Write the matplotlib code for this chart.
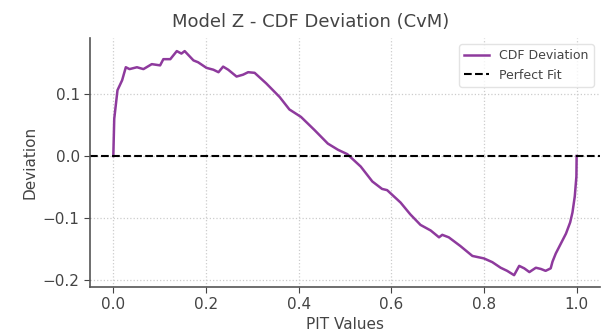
import matplotlib
matplotlib.use("Agg")
import matplotlib.pyplot as plt
import numpy as np

pit = [0.0, 0.002, 0.009, 0.019, 0.027, 0.035, 0.051, 0.065, 0.083, 0.101, 0.108,
       0.123, 0.137, 0.147, 0.154, 0.173, 0.183, 0.201, 0.216, 0.227, 0.237, 0.248,
       0.266, 0.280, 0.291, 0.305, 0.330, 0.359, 0.380, 0.405, 0.434, 0.463, 0.485,
       0.505, 0.534, 0.559, 0.580, 0.591, 0.620, 0.641, 0.663, 0.685, 0.703, 0.710,
       0.724, 0.749, 0.775, 0.800, 0.818, 0.836, 0.850, 0.865, 0.876, 0.887, 0.898,
       0.912, 0.923, 0.933, 0.944, 0.948, 0.955, 0.966, 0.977, 0.986, 0.991, 0.996,
       0.9995, 1.0]
deviation = [0.0, 0.060, 0.106, 0.122, 0.143, 0.140, 0.143, 0.140, 0.148, 0.146, 0.156,
             0.156, 0.169, 0.165, 0.169, 0.154, 0.151, 0.142, 0.139, 0.135, 0.144, 0.139,
             0.128, 0.131, 0.135, 0.134, 0.117, 0.095, 0.075, 0.063, 0.042, 0.020, 0.010,
             0.003, -0.017, -0.041, -0.053, -0.055, -0.075, -0.094, -0.111, -0.120, -0.131, -0.127,
             -0.131, -0.145, -0.161, -0.165, -0.171, -0.180, -0.185, -0.192, -0.177, -0.181, -0.187,
             -0.180, -0.182, -0.185, -0.181, -0.170, -0.157, -0.141, -0.125, -0.107, -0.091, -0.065,
             -0.033, 0.0]

text_color = "#444444"
plt.rcParams["font.family"] = ["DejaVu Sans"]

fig = plt.figure(figsize=(6.01, 3.31), dpi=100)
ax = fig.add_axes([0.15, 0.133, 0.848, 0.752])

ax.plot(pit, deviation, color="#8e3a9d", linewidth=1.8, label="CDF Deviation")
ax.axhline(0, color="black", linestyle="--", linewidth=1.5, label="Perfect Fit")

ax.set_xlim(-0.05, 1.05)
ax.set_ylim(-0.211, 0.19)
ax.set_xticks([0.0, 0.2, 0.4, 0.6, 0.8, 1.0])
ax.set_yticks([-0.2, -0.1, 0.0, 0.1])

fig.text(0.5175, 0.905, "Model Z - CDF Deviation (CvM)", fontsize=13,
         color=text_color, ha="center", va="bottom")
ax.set_xlabel("PIT Values", fontsize=11, color=text_color, labelpad=3)
ax.set_ylabel("Deviation", fontsize=11, color=text_color)

ax.grid(True, linestyle=":", color="#cccccc", linewidth=0.9)
ax.set_axisbelow(True)
for s in ["top", "right"]:
    ax.spines[s].set_visible(False)
for s in ["left", "bottom"]:
    ax.spines[s].set_color("#555555")
    ax.spines[s].set_linewidth(1.2)
ax.tick_params(colors=text_color, labelsize=11, length=4)

leg = ax.legend(loc="upper right", fontsize=9, frameon=True)
leg.get_frame().set_edgecolor("#dddddd")
for t in leg.get_texts():
    t.set_color(text_color)

fig.savefig("out.png", dpi=100)
